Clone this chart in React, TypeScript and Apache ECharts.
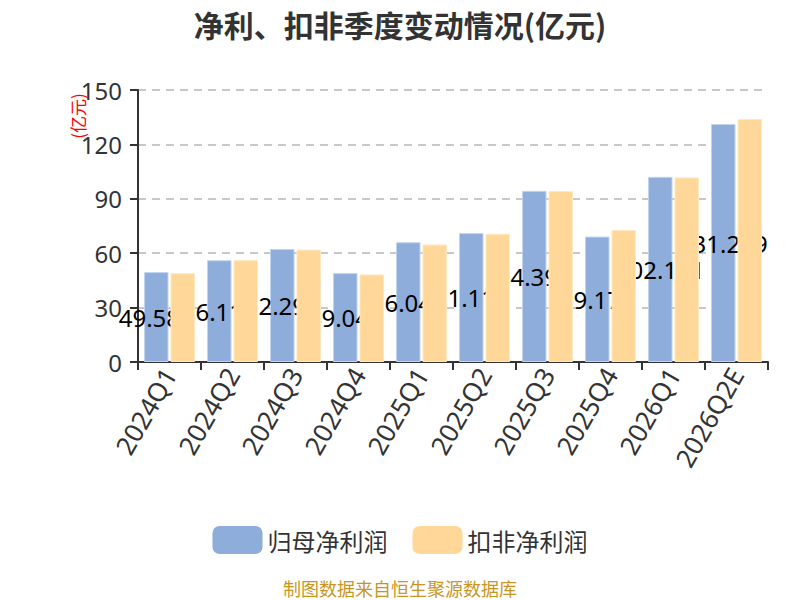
import React, { useEffect, useRef } from "react";
import * as echarts from "echarts";

const titleText = "净利、扣非季度变动情况(亿元)";
const categories = ["2024Q1", "2024Q2", "2024Q3", "2024Q4", "2025Q1", "2025Q2", "2025Q3", "2025Q4", "2026Q1", "2026Q2E"];
const netProfit = [49.583, 56.114, 62.294, 49.041, 66.042, 71.113, 94.392, 69.174, 102.131, 131.249];
const deductedProfit = [49.0, 56.2, 62.0, 48.3, 64.8, 70.7, 94.3, 72.8, 101.8, 134.0];
const seriesNames = ["归母净利润", "扣非净利润"];
const yMin = 0;
const yMax = 150;
const yInterval = 30;
const unitText = "(亿元)";
const sourceText = "制图数据来自恒生聚源数据库";

const FONT = "'Noto Sans', 'Noto Sans CJK SC', sans-serif";
const CJK = "'Noto Sans CJK SC', sans-serif";

export default function App() {
  const ref = useRef<HTMLDivElement>(null);
  useEffect(() => {
    document.body.style.margin = "0";
    if (!ref.current) return;
    const chart = echarts.init(ref.current, undefined, { renderer: "svg" });
    chart.setOption({
      animation: false,
      backgroundColor: "#ffffff",
      textStyle: { fontFamily: FONT },
      title: {
        text: titleText,
        left: "center",
        top: 4,
        textStyle: { fontSize: 30, fontWeight: "bold", color: "#333333", fontFamily: CJK },
      },
      legend: {
        data: seriesNames,
        left: "center",
        top: 521,
        itemWidth: 50,
        itemHeight: 28,
        itemGap: 25,
        icon: "roundRect",
        itemStyle: { borderWidth: 0 },
        textStyle: { fontSize: 24, color: "#333333", fontFamily: CJK },
      },
      grid: { left: 138, right: 32, top: 90, bottom: 238, containLabel: false },
      xAxis: {
        type: "category",
        data: categories,
        boundaryGap: true,
        axisLine: { show: true, lineStyle: { color: "#333333", width: 2 } },
        axisTick: { show: true, length: 8, alignWithLabel: false, lineStyle: { color: "#333333", width: 2 } },
        axisLabel: { rotate: 60, fontSize: 26, color: "#333333", margin: 8, interval: 0 },
      },
      yAxis: {
        type: "value",
        min: yMin,
        max: yMax,
        interval: yInterval,
        axisLine: { show: true, lineStyle: { color: "#333333", width: 2 } },
        axisTick: { show: true, length: 8, lineStyle: { color: "#333333", width: 2 } },
        axisLabel: { fontSize: 24, color: "#333333", margin: 16 },
        splitLine: { show: true, lineStyle: { color: "#c8c8c8", type: [8, 6], width: 2 } },
      },
      graphic: [
        {
          type: "text",
          x: 77,
          y: 116,
          rotation: Math.PI / 2,
          style: {
            text: unitText,
            fill: "#ff0000",
            fontSize: 17,
            fontFamily: CJK,
            align: "center",
            verticalAlign: "middle",
          },
        },
        {
          type: "text",
          x: 400,
          y: 588,
          style: {
            text: sourceText,
            fill: "#c8961f",
            fontSize: 18,
            lineHeight: 18,
            fontFamily: CJK,
            align: "center",
            verticalAlign: "middle",
          },
        },
      ],
      series: [
        {
          name: seriesNames[0],
          type: "bar",
          data: netProfit,
          z: 2,
          barCategoryGap: "19%",
          barGap: "8%",
          itemStyle: { color: "#8eaddb", borderColor: "#c2d4ee", borderWidth: 1 },
          label: {
            show: true,
            position: "inside",
            fontSize: 24,
            color: "#000000",
            fontFamily: FONT,
            formatter: (p: any) => String(p.value),
          },
        },
        {
          name: seriesNames[1],
          type: "bar",
          data: deductedProfit,
          z: 3,
          barCategoryGap: "19%",
          barGap: "8%",
          itemStyle: { color: "#ffd899", borderColor: "#ffe8c2", borderWidth: 1 },
          label: { show: false },
        },
      ],
    });
    return () => chart.dispose();
  }, []);
  return <div ref={ref} style={{ width: 800, height: 600 }} />;
}
